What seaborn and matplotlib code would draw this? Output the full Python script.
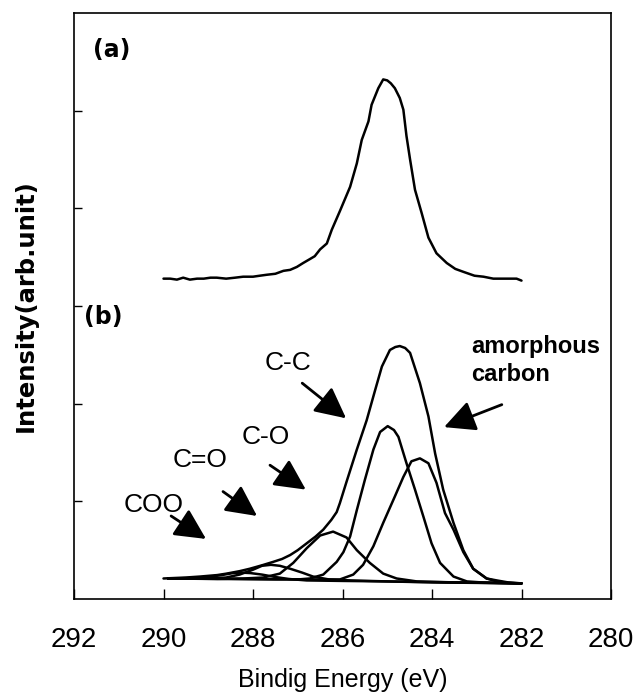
import matplotlib
matplotlib.use("Agg")
import matplotlib.pyplot as plt
import seaborn as sns

# ---- dados (XPS C1s) ----
# (a) espectro medido
a_be = [290.0, 289.85, 289.7, 289.56, 289.41, 289.25, 289.1, 288.95, 288.81, 288.6,
        288.4, 288.22, 288.0, 287.85, 287.69, 287.5, 287.32, 287.17, 287.02, 286.88,
        286.73, 286.62, 286.50, 286.35, 286.24, 286.06, 285.83, 285.68, 285.57, 285.42,
        285.35, 285.20, 285.09, 285.00, 284.92, 284.83, 284.72, 284.64, 284.57, 284.49,
        284.38, 284.23, 284.08, 283.90, 283.67, 283.48, 283.30, 283.05, 282.85, 282.63,
        282.4, 282.11, 282.0]
a_int = [3.28, 3.28, 3.27, 3.29, 3.27, 3.28, 3.28, 3.29, 3.29, 3.28,
         3.29, 3.30, 3.30, 3.31, 3.32, 3.33, 3.36, 3.37, 3.40, 3.44,
         3.48, 3.51, 3.58, 3.64, 3.78, 3.97, 4.22, 4.46, 4.70, 4.89,
         5.06, 5.23, 5.32, 5.31, 5.28, 5.23, 5.13, 5.01, 4.74, 4.50,
         4.19, 3.95, 3.70, 3.54, 3.44, 3.38, 3.35, 3.31, 3.30, 3.28,
         3.28, 3.28, 3.26]

# (b) envelope
b_be = [290.0, 289.5, 289.18, 288.8, 288.59, 288.3, 288.07, 287.8, 287.55, 287.35,
        287.17, 287.0, 286.80, 286.6, 286.43, 286.25, 286.13, 286.06, 285.91, 285.68,
        285.46, 285.27, 285.12, 284.94, 284.82, 284.72, 284.60, 284.49, 284.27, 284.08,
        283.93, 283.75, 283.52, 283.30, 283.08, 282.78, 282.55, 282.3, 282.0]
b_int = [0.21, 0.22, 0.23, 0.245, 0.26, 0.285, 0.31, 0.345, 0.38, 0.41,
         0.45, 0.50, 0.57, 0.64, 0.71, 0.81, 0.89, 0.98, 1.20, 1.53,
         1.83, 2.14, 2.38, 2.55, 2.58, 2.59, 2.57, 2.52, 2.21, 1.87,
         1.49, 1.12, 0.78, 0.50, 0.31, 0.21, 0.19, 0.17, 0.16]

# componentes
cc_be = [289.9, 288.5, 287.5, 287.0, 286.73, 286.43, 286.13, 285.98, 285.83, 285.68,
         285.50, 285.31, 285.16, 284.99, 284.85, 284.75, 284.57, 284.38, 284.19, 284.01,
         283.82, 283.52, 283.22, 282.9, 282.5, 282.0]
cc_int = [0.21, 0.205, 0.20, 0.20, 0.21, 0.25, 0.38, 0.48, 0.64, 0.91,
          1.22, 1.53, 1.71, 1.77, 1.73, 1.66, 1.39, 1.12, 0.84, 0.57,
          0.37, 0.23, 0.18, 0.17, 0.165, 0.16]

am_be = [289.9, 288.0, 286.5, 286.06, 285.76, 285.54, 285.31, 285.09, 284.83, 284.64,
         284.46, 284.27, 284.08, 283.90, 283.71, 283.52, 283.30, 283.08, 282.78, 282.55,
         282.3, 282.0]
am_int = [0.21, 0.205, 0.20, 0.20, 0.25, 0.35, 0.54, 0.78, 1.05, 1.25,
          1.41, 1.44, 1.39, 1.19, 0.88, 0.71, 0.48, 0.31, 0.21, 0.18,
          0.165, 0.16]

co_be = [289.9, 288.8, 288.22, 287.77, 287.40, 287.10, 286.80, 286.50, 286.21, 285.91,
         285.68, 285.39, 285.09, 284.79, 284.34, 283.5, 282.5, 282.0]
co_int = [0.21, 0.205, 0.21, 0.22, 0.26, 0.37, 0.52, 0.65, 0.69, 0.63,
          0.50, 0.37, 0.26, 0.21, 0.18, 0.17, 0.165, 0.16]

cdo_be = [289.9, 289.0, 288.6, 288.3, 288.0, 287.8, 287.6, 287.4, 287.17, 286.9,
          286.66, 286.3, 285.8, 285.0, 284.0, 283.0, 282.0]
cdo_int = [0.21, 0.21, 0.22, 0.25, 0.30, 0.34, 0.35, 0.34, 0.31, 0.27,
           0.23, 0.20, 0.19, 0.18, 0.17, 0.165, 0.16]

coo_be = [289.9, 289.3, 289.0, 288.7, 288.45, 288.25, 288.05, 287.8, 287.5, 287.2,
          286.8, 286.0, 285.0, 283.5, 282.0]
coo_int = [0.21, 0.215, 0.225, 0.245, 0.265, 0.27, 0.265, 0.25, 0.225, 0.205,
           0.19, 0.185, 0.18, 0.17, 0.16]

xticks = [292, 290, 288, 286, 284, 282, 280]

# rótulos e setas: (texto, posição do texto, cauda da seta, ponta da seta)
rotulos = ["C-C", "C-O", "C=O", "COO"]
rot_pos = [(287.22, 2.42), (287.71, 1.66), (289.18, 1.42), (290.21, 0.96)]
seta_cauda = [(286.90, 2.21), (287.62, 1.37), (288.67, 1.10), (289.83, 0.85)]
seta_ponta = [(285.92, 1.85), (286.82, 1.12), (287.91, 0.85), (289.05, 0.615)]
amorfo_pos = (283.13, 2.44)
amorfo_cauda = (282.44, 1.99)
amorfo_ponta = (283.73, 1.76)

sns.set_style("white")
plt.rcParams['font.family'] = ['Liberation Sans Narrow', 'Liberation Sans', 'DejaVu Sans']
plt.rcParams['text.color'] = 'black'
plt.rcParams['axes.labelcolor'] = 'black'
plt.rcParams['xtick.color'] = 'black'
plt.rcParams['ytick.color'] = 'black'

fig = plt.figure(figsize=(6.36, 6.93), dpi=100)
ax = fig.add_axes([74/636, 94/693, 537/636, 586/693])

curvas = [(a_be, a_int), (b_be, b_int), (cc_be, cc_int), (am_be, am_int),
          (co_be, co_int), (cdo_be, cdo_int), (coo_be, coo_int)]
for xs, ys in curvas:
    sns.lineplot(x=xs, y=ys, sort=False, estimator=None, color='black', lw=1.8, ax=ax)

ax.set_xlim(292, 280)
ax.set_ylim(0, 6)
ax.set_xticks(xticks)
ax.set_xticklabels([str(t) for t in xticks], fontsize=20)
ax.set_yticks([1, 2, 3, 4, 5])
ax.set_yticklabels([])
ax.tick_params(axis='x', direction='in', length=7, width=1, pad=20, bottom=True)
ax.tick_params(axis='y', direction='in', length=6, width=1, left=True)
for s in ax.spines.values():
    s.set_color('black')
    s.set_linewidth(1.2)

ax.set_xlabel('Bindig Energy (eV)', fontsize=18)
ax.xaxis.set_label_coords(0.5, -0.118)
ax.set_ylabel('Intensity(arb.unit)', fontsize=17.5, fontweight='bold', family='DejaVu Sans')
ax.yaxis.set_label_coords(-0.068, 0.5)

ax.text(291.58, 5.625, '(a)', fontsize=17, fontweight='bold', va='center', ha='left',
        family='DejaVu Sans')
ax.text(291.78, 2.89, '(b)', fontsize=17, fontweight='bold', va='center', ha='left',
        family='DejaVu Sans')

estilo = '-|>,head_length=0.9,head_width=0.45'
for txt, pos, cauda, ponta in zip(rotulos, rot_pos, seta_cauda, seta_ponta):
    ax.text(pos[0], pos[1], txt, fontsize=19, ha='center', va='center')
    ax.annotate('', xy=ponta, xytext=cauda,
                arrowprops=dict(arrowstyle=estilo, mutation_scale=21, lw=2,
                                color='black', shrinkA=0, shrinkB=0))

ax.text(amorfo_pos[0], amorfo_pos[1], 'amorphous\ncarbon', fontsize=17, fontweight='bold',
        ha='left', va='center', linespacing=1.3)
ax.annotate('', xy=amorfo_ponta, xytext=amorfo_cauda,
            arrowprops=dict(arrowstyle=estilo, mutation_scale=21, lw=2,
                            color='black', shrinkA=0, shrinkB=0))

plt.savefig('out.png', dpi=100)
